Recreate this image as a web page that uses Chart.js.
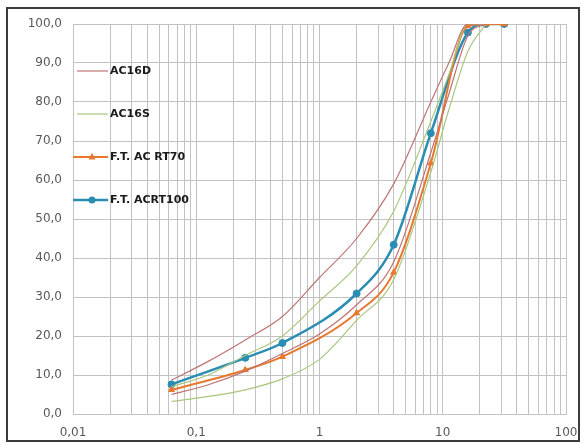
<!DOCTYPE html>
<html><head><meta charset="utf-8">
<script src="https://cdn.jsdelivr.net/npm/chart.js@4.4.1/dist/chart.umd.min.js"></script>
<style>
html,body{margin:0;padding:0;background:#fff;overflow:hidden;}
#wrap{position:relative;width:587px;height:443px;}
#frame{position:absolute;left:6px;top:7px;width:574px;height:435px;border:2px solid #3c3c3c;box-sizing:border-box;pointer-events:none;}
canvas{position:absolute;left:0;top:0;}
</style></head><body>
<div id="wrap"><canvas id="c" width="587" height="443"></canvas><div id="frame"></div></div>
<script>
// Sieve sizes (mm) for the specification envelopes
const sieves = [0.063, 0.125, 0.25, 0.5, 1, 2, 4, 8, 11.2, 16, 22.4];
// AC16D envelope (upper / lower)
const ac16dUpper = [8.7, 13.5, 19, 25, 35, 45, 59, 80, 90, 100, 100];
const ac16dLower = [5, 7.5, 11, 15.5, 20.5, 28, 39, 67, 82, 97, 100];
// AC16S envelope (upper / lower)
const ac16sUpper = [7, 10, 15, 20, 29, 38, 52, 75, 87, 100, 100];
const ac16sLower = [3.2, 4.5, 6.2, 9, 14, 24, 34.5, 62, 78, 93, 100];
// Job mix formulas
const ftSieves = [0.063, 0.25, 0.5, 2, 4, 8, 16, 22.4, 31.5];
const ftRT70 = [6.2, 11.3, 14.7, 25.9, 36.3, 64.3, 99.5, 100, 100];
const ftRT100 = [7.6, 14.4, 18.2, 30.9, 43.4, 72.0, 97.8, 100, 100];
// Tick labels
const xDecades = [0.01, 0.1, 1, 10, 100];
const xTickLabels = ['0,01', '0,1', '1', '10', '100'];
const yTickLabels = ['0,0','10,0','20,0','30,0','40,0','50,0','60,0','70,0','80,0','90,0','100,0'];
const legendLabels = ['AC16D', 'AC16S', 'F.T. AC RT70', 'F.T. ACRT100'];

const pts = (xs, ys) => xs.map((x, i) => ({x: x, y: ys[i]}));

const C_D = '#bd7474', C_S = '#a9c77e', C_70 = '#e8782e', C_100 = '#2b8db3';

const specStyle = {borderWidth: 1.2, pointRadius: 0, cubicInterpolationMode: 'monotone'};
const datasets = [
  Object.assign({label: 'AC16D', data: pts(sieves, ac16dUpper), borderColor: C_D, legend: true}, specStyle),
  Object.assign({label: 'AC16D_low', data: pts(sieves, ac16dLower), borderColor: C_D}, specStyle),
  Object.assign({label: 'AC16S', data: pts(sieves, ac16sUpper), borderColor: C_S, legend: true}, specStyle),
  Object.assign({label: 'AC16S_low', data: pts(sieves, ac16sLower), borderColor: C_S}, specStyle),
  {label: 'F.T. AC RT70', data: pts(ftSieves, ftRT70), borderColor: C_70, backgroundColor: C_70, borderWidth: 2, pointStyle: 'triangle', pointRadius: 3.5, pointBorderWidth: 1, cubicInterpolationMode: 'monotone', legend: true},
  {label: 'F.T. ACRT100', data: pts(ftSieves, ftRT100), borderColor: C_100, backgroundColor: C_100, borderWidth: 2.5, pointStyle: 'circle', pointRadius: 3.5, pointBorderWidth: 1, cubicInterpolationMode: 'monotone', legend: true}
];

const legendPlugin = {
  id: 'customLegend',
  afterDraw(chart) {
    const ctx = chart.ctx;
    const ds = chart.data.datasets.filter(d => d.legend);
    ctx.save();
    ds.forEach((d, i) => {
      const y = 71 + i * 43;
      const x0 = d.pointRadius > 0 ? 73 : 77;
      ctx.strokeStyle = d.borderColor;
      ctx.lineWidth = d.borderWidth;
      ctx.beginPath(); ctx.moveTo(x0, y); ctx.lineTo(108, y); ctx.stroke();
      if (d.pointRadius > 0) {
        ctx.fillStyle = d.backgroundColor;
        ctx.beginPath();
        const r = d.pointRadius;
        if (d.pointStyle === 'circle') { ctx.arc(92, y, r, 0, Math.PI * 2); }
        else { ctx.moveTo(92, y - r * 1.2); ctx.lineTo(92 + r, y + r * 0.7); ctx.lineTo(92 - r, y + r * 0.7); ctx.closePath(); }
        ctx.fill();
      }
      ctx.fillStyle = '#1a1a1a';
      ctx.font = 'bold 11px "DejaVu Sans"';
      ctx.textBaseline = 'middle';
      ctx.textAlign = 'left';
      ctx.fillText(legendLabels[i], 110, y);
    });
    ctx.restore();
  }
};

const gridTicks = [];
xDecades.forEach((d, i) => {
  if (i < xDecades.length - 1) { for (let k = 1; k < 10; k++) gridTicks.push(+(d * k).toPrecision(3)); }
  else gridTicks.push(d);
});

new Chart(document.getElementById('c'), {
  type: 'line',
  data: {datasets: datasets},
  options: {
    responsive: false,
    animation: false,
    devicePixelRatio: 1,
    layout: {padding: {top: 24, right: 21, left: 0, bottom: 0}},
    plugins: {legend: {display: false}, tooltip: {enabled: false}},
    scales: {
      x: {
        type: 'logarithmic', min: 0.01, max: 100,
        afterBuildTicks: (s) => { s.ticks = gridTicks.map(v => ({value: v})); },
        afterFit: (s) => { s.height = 29; s.paddingLeft = 0; s.paddingRight = 0; },
        grid: {color: '#c2c2c2', lineWidth: 1, drawTicks: false},
        border: {display: true, color: '#c2c2c2'},
        ticks: {
          autoSkip: false, maxRotation: 0, padding: 12, color: '#595959',
          font: {family: '"DejaVu Sans"', size: 12},
          callback: (v) => { const i = xDecades.findIndex(d => Math.abs(d - v) < d * 1e-6); return i >= 0 ? xTickLabels[i] : ''; }
        }
      },
      y: {
        type: 'linear', min: 0, max: 100,
        afterFit: (s) => { s.width = 73; s.paddingTop = 0; s.paddingBottom = 0; },
        grid: {color: '#c2c2c2', lineWidth: 1, drawTicks: false},
        border: {display: true, color: '#c2c2c2'},
        ticks: {
          stepSize: 10, padding: 11, color: '#595959',
          font: {family: '"DejaVu Sans"', size: 12},
          callback: (v) => yTickLabels[Math.round(v / 10)]
        }
      }
    }
  },
  plugins: [legendPlugin]
});
</script>
</body></html>
